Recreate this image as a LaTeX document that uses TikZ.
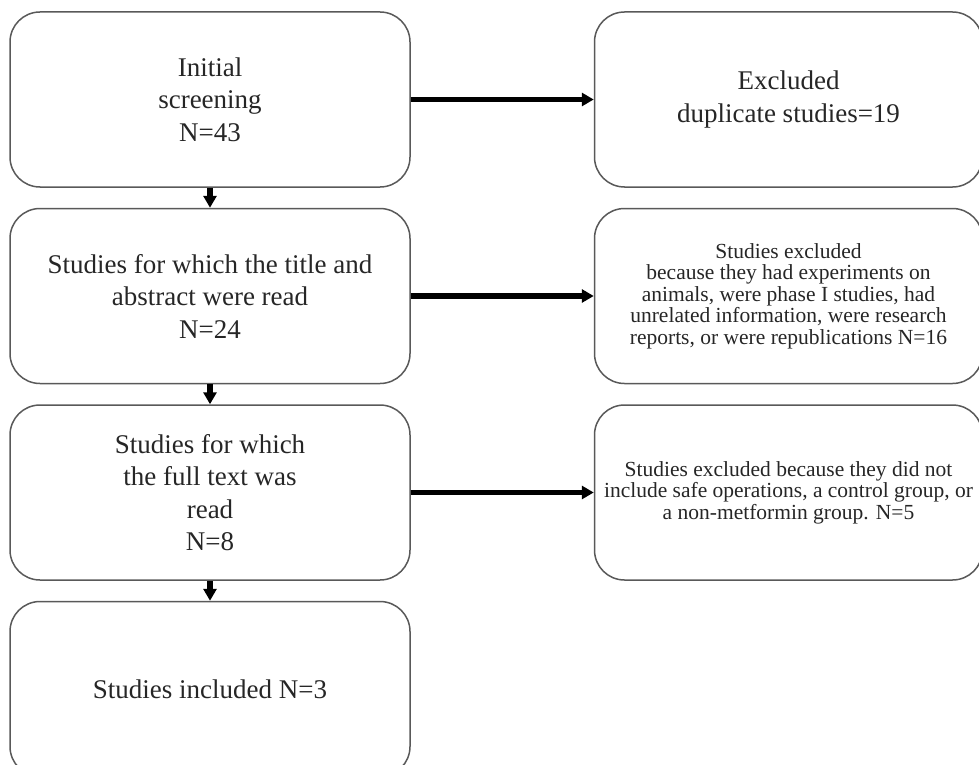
\documentclass[tikz,border=0pt]{standalone}
\usepackage{fontspec}
\setmainfont{Liberation Serif}
\usetikzlibrary{positioning,arrows.meta}

\begin{document}
\begin{tikzpicture}[node distance={10pt}, main/.style = {draw=black!65, line width=0.75pt, rounded corners=15pt, align=center, text=black!85, inner sep=0pt, minimum width=200pt, minimum height=87.5pt, font=\fontsize{13.5}{16.25}\selectfont}, side/.style = {main, minimum width=194pt}, small/.style = {font=\fontsize{10.75}{10.75}\selectfont}, flow/.style = {line width=2.6pt, -{Triangle[length=6pt, width=6.5pt]}}] 
        \useasboundingbox (0,0) rectangle (489.5pt,-382.5pt);
        \node[main] (1) at (105pt,-49.75pt) {Initial\\screening\\N=43};  
        \node[main] (2) [below = of 1] {Studies for which the title and\\abstract were read\\N=24};  
        \node[main] (3) [below = of 2] {Studies for which\\the full text was\\read\\N=8};  
        \node[main] (4) [below = of 3] {Studies included N=3};  
        \node[side] (5) [right = 91.5pt of 1] {Excluded\\duplicate studies=19};  
        \node[side, small] (6) [right = 91.5pt of 2] {Studies excluded\\because they had experiments on\\animals, were phase I studies, had\\unrelated information, were research\\reports, or were republications N=16};  
        \node[side, small] (7) [right = 91.5pt of 3] {Studies excluded because they did not\\include safe operations, a control group, or\\a non-metformin group. N=5};  
        \draw[flow] (1) -- (2);  
        \draw[flow] (2) -- (3);  
        \draw[flow] (3) -- (4);  
        \draw[flow] (1) -- (5);  
        \draw[flow] (2) -- (6);  
        \draw[flow] (3) -- (7);  
    \end{tikzpicture}
\end{document}
